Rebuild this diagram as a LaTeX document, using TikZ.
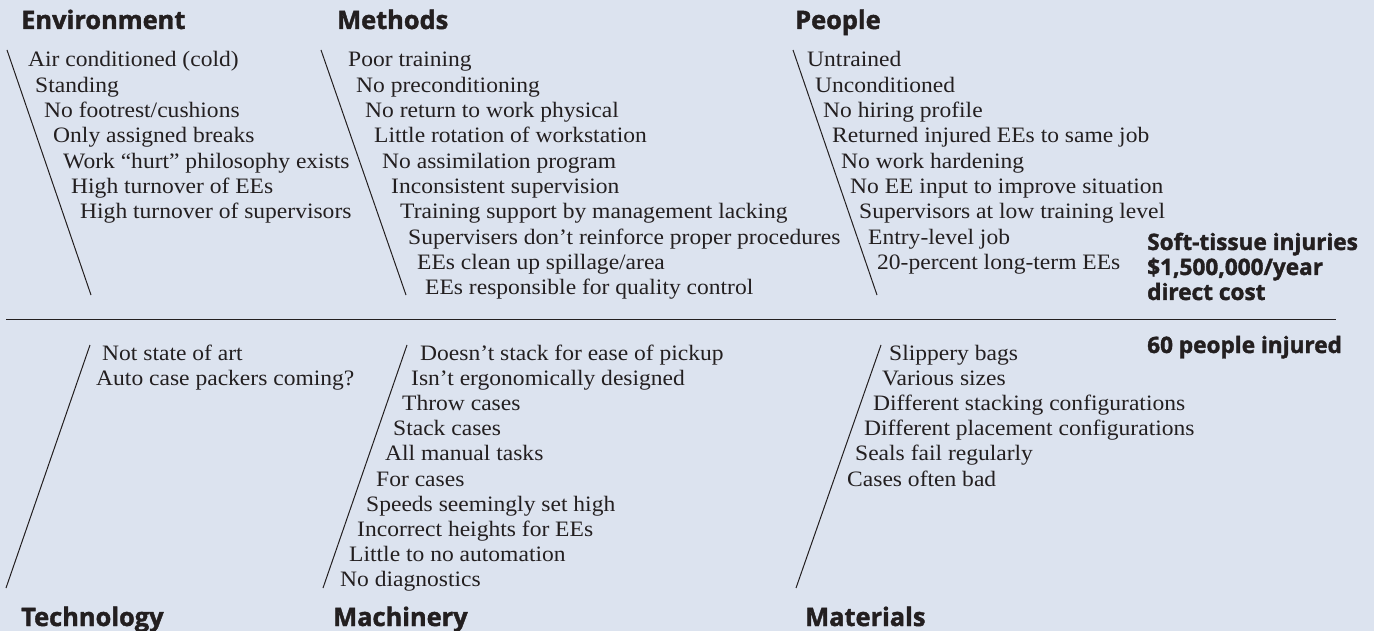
\documentclass[tikz,border=0pt]{standalone}
\usepackage{fontspec}
\setmainfont{Liberation Serif}[FakeStretch=1.07]
\newfontfamily\headfont{Open Sans}[BoldFeatures={FakeBold=1.6}]
\definecolor{paper}{RGB}{220,227,239}
\definecolor{ink}{RGB}{35,31,32}

\begin{document}
\begin{tikzpicture}[
    x=1pt, y=-1pt,
    font=\fontsize{22}{25}\selectfont,
    % Stile
    cause/.style={anchor=base west, inner sep=0pt, text=ink},
    head/.style={anchor=base west, inner sep=0pt, text=ink,
        font=\headfont\bfseries\fontsize{25.4}{28}\selectfont},
    effect/.style={anchor=base west, inner sep=0pt, text=ink,
        font=\headfont\bfseries\fontsize{22.6}{25}\selectfont},
    bone/.style={draw=ink, line width=1pt},
    spine/.style={draw=ink, line width=1.4pt}
]
\useasboundingbox (0,0) rectangle (1377,631);
\fill[paper] (0,0) rectangle (1374,631);

% --- OBEN: ENVIRONMENT ---
\node[head] (envhead) at (21,29) {Environment};
\coordinate (envtop) at (7,50);
\coordinate (envbot) at (91,295);
\draw[bone] (envtop) -- (envbot);
\node[cause] (env1) at (28,67)    {Air conditioned (cold)};
\node[cause] (env2) at (35,92.3)  {Standing};
\node[cause] (env3) at (44,117.6) {No footrest/cushions};
\node[cause] (env4) at (53,142.9) {Only assigned breaks};
\node[cause] (env5) at (63,168.2) {Work ``hurt'' philosophy exists};
\node[cause] (env6) at (71,193.5) {High turnover of EEs};
\node[cause] (env7) at (80,218.8) {High turnover of supervisors};

% --- OBEN: METHODS ---
\node[head] (methhead) at (337,29) {Methods};
\coordinate (methtop) at (321,50);
\coordinate (methbot) at (406,295);
\draw[bone] (methtop) -- (methbot);
\node[cause] (meth1)  at (348,67)    {Poor training};
\node[cause] (meth2)  at (356,92.3)  {No preconditioning};
\node[cause] (meth3)  at (365,117.6) {No return to work physical};
\node[cause] (meth4)  at (374,142.9) {Little rotation of workstation};
\node[cause] (meth5)  at (382,168.2) {No assimilation program};
\node[cause] (meth6)  at (391,193.5) {Inconsistent supervision};
\node[cause] (meth7)  at (400,218.8) {Training support by management lacking};
\node[cause] (meth8)  at (408,244.1) {Supervisers don't reinforce proper procedures};
\node[cause] (meth9)  at (417,269.4) {EEs clean up spillage/area};
\node[cause] (meth10) at (425,294.7) {EEs responsible for quality control};

% --- OBEN: PEOPLE ---
\node[head] (peophead) at (795,29) {People};
\coordinate (peoptop) at (793,50);
\coordinate (peopbot) at (877,295);
\draw[bone] (peoptop) -- (peopbot);
\node[cause] (peop1) at (807,67)    {Untrained};
\node[cause] (peop2) at (815,92.3)  {Unconditioned};
\node[cause] (peop3) at (823,117.6) {No hiring profile};
\node[cause] (peop4) at (832,142.9) {Returned injured EEs to same job};
\node[cause] (peop5) at (841,168.2) {No work hardening};
\node[cause] (peop6) at (850,193.5) {No EE input to improve situation};
\node[cause] (peop7) at (859,218.8) {Supervisors at low training level};
\node[cause] (peop8) at (868,244.1) {Entry-level job};
\node[cause] (peop9) at (877,269.4) {20-percent long-term EEs};

% --- WIRKUNG ---
\coordinate (spinestart) at (6,319.5);
\coordinate (spineend) at (1336,319.5);
\draw[spine] (spinestart) -- (spineend);
\node[effect] (cost1) at (1147,250) {Soft-tissue injuries};
\node[effect] (cost2) at (1147,275) {\$1,500,000/year};
\node[effect] (cost3) at (1147,300) {direct cost};
\node[effect] (injured) at (1147,353) {60 people injured};

% --- UNTEN: TECHNOLOGY ---
\node[head] (techhead) at (21,626) {Technology};
\coordinate (techtop) at (90,345);
\coordinate (techbot) at (6,588);
\draw[bone] (techtop) -- (techbot);
\node[cause] (tech1) at (102,360) {Not state of art};
\node[cause] (tech2) at (96,385.2) {Auto case packers coming?};

% --- UNTEN: MACHINERY ---
\node[head] (machhead) at (333,626) {Machinery};
\coordinate (machtop) at (407,345);
\coordinate (machbot) at (323,588);
\draw[bone] (machtop) -- (machbot);
\node[cause] (mach1)  at (420,360)   {Doesn't stack for ease of pickup};
\node[cause] (mach2)  at (411,385.2) {Isn't ergonomically designed};
\node[cause] (mach3)  at (402,410.4) {Throw cases};
\node[cause] (mach4)  at (393,435.6) {Stack cases};
\node[cause] (mach5)  at (385,460.8) {All manual tasks};
\node[cause] (mach6)  at (376,486)   {For cases};
\node[cause] (mach7)  at (366,511.2) {Speeds seemingly set high};
\node[cause] (mach8)  at (357,536.4) {Incorrect heights for EEs};
\node[cause] (mach9)  at (349,561.6) {Little to no automation};
\node[cause] (mach10) at (340,586.8) {No diagnostics};

% --- UNTEN: MATERIALS ---
\node[head] (mathead) at (805,626) {Materials};
\coordinate (mattop) at (881,345);
\coordinate (matbot) at (796,588);
\draw[bone] (mattop) -- (matbot);
\node[cause] (mat1) at (889,360)   {Slippery bags};
\node[cause] (mat2) at (882,385.2) {Various sizes};
\node[cause] (mat3) at (873,410.4) {Different stacking configurations};
\node[cause] (mat4) at (864,435.6) {Different placement configurations};
\node[cause] (mat5) at (855,460.8) {Seals fail regularly};
\node[cause] (mat6) at (847,486)   {Cases often bad};

\end{tikzpicture}
\end{document}
